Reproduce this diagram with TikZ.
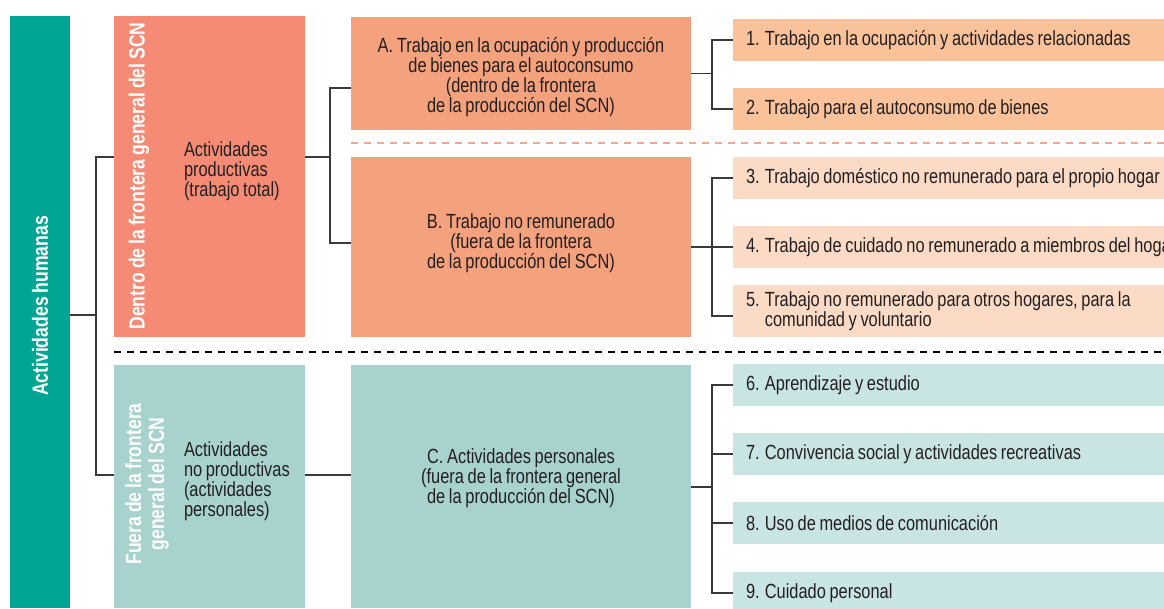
\documentclass[tikz,border=0pt]{standalone}
\usepackage{fontspec}
\setmainfont{Liberation Sans}[FakeStretch=0.8, WordSpace=0.8]
\usetikzlibrary{positioning}

\definecolor{ink}{HTML}{231F20}
\definecolor{tealdark}{HTML}{00A693}
\definecolor{salmon}{HTML}{F58B74}
\definecolor{orangeab}{HTML}{F4A17E}
\definecolor{peach}{HTML}{FAC29A}
\definecolor{peachlt}{HTML}{FBDBC6}
\definecolor{tealmid}{HTML}{A7D2CD}
\definecolor{teallt}{HTML}{C8E5E4}
\definecolor{dashsalmon}{HTML}{F7A592}
\definecolor{linegray}{HTML}{3A3A3A}

\tikzset{
  txt/.style={font=\fontsize{20.5}{20}\selectfont, text=ink},
  band/.style={anchor=north west, minimum width=191pt, minimum height=#1},
  midbox/.style={anchor=north west, minimum width=340pt, minimum height=#1},
  item/.style={anchor=north west, minimum width=431pt, minimum height=#1,
    text width=425pt, inner xsep=13pt, align=flush left, txt},
  item/.default=42pt,
  vlabel/.style={rotate=90, text=white, align=center,
    font=\fontsize{22}{23}\selectfont\bfseries},
  conn/.style={draw=linegray, line width=1.2pt},
}

\begin{document}
\begin{tikzpicture}[x=1pt, y=-1pt, every node/.style={inner sep=0pt, outer sep=0pt}]

  \useasboundingbox (0,0) rectangle (1164,608);
  \clip (0,0) rectangle (1164,608);

  % left bar
  \node[anchor=north west, minimum width=60pt, minimum height=592pt, fill=tealdark] (hum) at (10,16) {};
  \node[vlabel] (humtxt) at (40,306) {Actividades humanas};

  % inside / outside the SCN boundary
  \node[band=321pt, fill=salmon] (dentro) at (114,16) {};
  \node[vlabel] (dentrotxt) at (139,176) {Dentro de la frontera general del SCN};
  \node[txt, anchor=west, align=left] (prod) at (184,171) {Actividades\\productivas\\(trabajo total)};

  \node[band=243pt, fill=tealmid] (fuera) at (114,365) {};
  \node[vlabel] (fueratxt) at (147,484) {Fuera de la frontera\\general del SCN};
  \node[txt, anchor=west, align=left] (noprod) at (184,481) {Actividades\\no productivas\\(actividades\\personales)};

  % middle column
  \node[midbox=113pt, fill=orangeab] (boxA) at (351,17) {};
  \node[txt, align=center] (txtA) at (521,77) {A. Trabajo en la ocupación y producción\\de bienes para el autoconsumo\\(dentro de la frontera\\de la producción del SCN)};

  \node[midbox=180pt, fill=orangeab] (boxB) at (351,157) {};
  \node[txt, align=center] (txtB) at (521,243) {B. Trabajo no remunerado\\(fuera de la frontera\\de la producción del SCN)};

  \node[midbox=243pt, fill=tealmid] (boxC) at (351,365) {};
  \node[txt, align=center] (txtC) at (521,478) {C. Actividades personales\\(fuera de la frontera general\\de la producción del SCN)};

  % right column
  \node[item, fill=peach] (it1) at (733,19) {1. Trabajo en la ocupación y actividades relacionadas};
  \node[item, fill=peach] (it2) at (733,88) {2. Trabajo para el autoconsumo de bienes};
  \node[item, fill=peachlt] (it3) at (733,157) {3. Trabajo doméstico no remunerado para el propio hogar};
  \node[item, fill=peachlt] (it4) at (733,226) {\mbox{4. Trabajo de cuidado no remunerado a miembros del hogar}};
  \node[item=52pt, fill=peachlt] (it5) at (733,285) {5. Trabajo no remunerado para otros hogares, para la\\\phantom{5. }comunidad y voluntario};
  \node[item, fill=teallt] (it6) at (733,364) {6. Aprendizaje y estudio};
  \node[item, fill=teallt] (it7) at (733,433) {7. Convivencia social y actividades recreativas};
  \node[item, fill=teallt] (it8) at (733,502) {8. Uso de medios de comunicación};
  \node[item, fill=teallt] (it9) at (733,572) {9. Cuidado personal};

  % separators
  \coordinate (sepA) at (351,143);
  \coordinate (sepB) at (1164,143);
  \draw[dashsalmon, line width=2pt, dash pattern=on 7pt off 6pt] (sepA) -- (sepB);
  \coordinate (sepC) at (114,352);
  \coordinate (sepD) at (1164,352);
  \draw[black, line width=2pt, dash pattern=on 7pt off 6pt] (sepC) -- (sepD);

  % connectors
  \coordinate (jH) at (96,315);
  \draw[conn] (hum.east |- jH) -- (jH);
  \draw[conn] ([yshift=19.5pt]dentro.west) -| (jH) |- ([yshift=11.5pt]fuera.west);

  \coordinate (jD) at (330,157);
  \draw[conn] (dentro.east |- jD) -- (jD);
  \draw[conn] ([yshift=-14.5pt]boxA.west) -| (jD) |- ([yshift=4pt]boxB.west);
  \draw[conn] ([yshift=11.5pt]fuera.east) -- ([yshift=11.5pt]boxC.west);

  \coordinate (jA) at (712,75);
  \draw[conn] (boxA.east) -- (boxA.east -| jA);
  \draw[conn] (it1.west) -| (jA) |- (it2.west);

  \coordinate (jB) at (712,247);
  \draw[conn] (boxB.east) -- (jB) -- (it4.west);
  \draw[conn] (it3.west) -| (jB) |- ([yshift=-5pt]it5.west);

  \coordinate (jC) at (712,487);
  \draw[conn] ([yshift=-0.5pt]boxC.east) -- (jC);
  \draw[conn] (it6.west) -| (jC) |- (it9.west);
  \draw[conn] (it7.west) -- (it7.west -| jC);
  \draw[conn] (it8.west) -- (it8.west -| jC);

\end{tikzpicture}
\end{document}
